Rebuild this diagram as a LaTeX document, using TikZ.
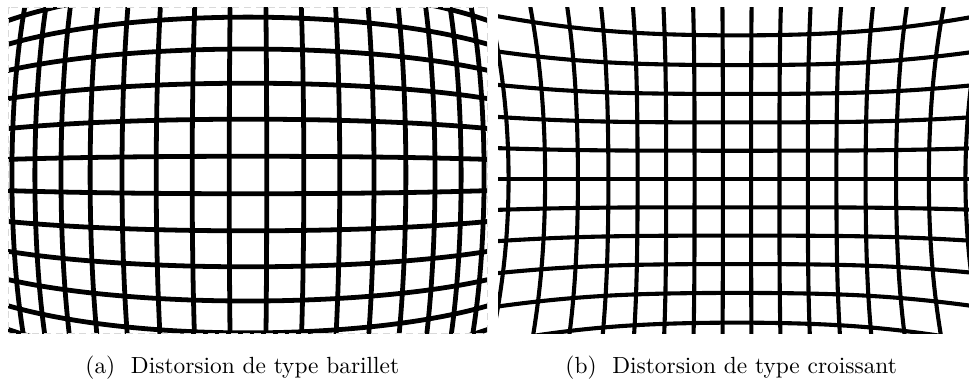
\documentclass[tikz,border=0pt]{standalone}
\begin{document}
\begin{tikzpicture}[x=0.428pt,y=-0.428pt,
  barrelline/.style={line width=2.05pt, black},
  pinline/.style={line width=1.75pt, black},
  framegray/.style={gray!30, line width=0.4pt, dash pattern=on 3pt off 2pt},
  captext/.style={anchor=base west, inner sep=0pt}]
\useasboundingbox (0,0) rectangle (969,381);
% (a) barrel distortion
\begin{scope}
  \clip (8,7) rectangle (487,333);
  \foreach \u in {-8.5,-7.5,...,8.5}{
    \draw[barrelline] plot[variable=\t,domain=-7.5:7.5,samples=61,smooth]
      ({248+37.5*(\u)/(1+(\u)*(\u)/294+(\t)*(\t)/500)},
       {175+37.5*(\t)/(1+((\u)*(\u)+(\t)*(\t))/294)});
  }
  \foreach \v in {-6.5,-5.5,...,5.5}{
    \draw[barrelline] plot[variable=\t,domain=-9.5:9.5,samples=61,smooth]
      ({248+37.5*(\t)/(1+(\t)*(\t)/294+(\v)*(\v)/500)},
       {175+37.5*(\v)/(1+((\t)*(\t)+(\v)*(\v))/294)});
  }
\end{scope}
\draw[framegray] (8,7) rectangle (487,333);
% (b) pincushion distortion
\begin{scope}
  \clip (498,7) rectangle (969,333);
  \foreach \u in {-8.5,-7.5,...,8.5}{
    \draw[pinline] plot[variable=\t,domain=-7.5:7.5,samples=61,smooth]
      ({737+28.3*(\u)*(1+(((\u)*(\u)+(\t)*(\t))/203.7)^2)},
       {179+28.3*(\t)*(1+(((\u)*(\u)+(\t)*(\t))/203.7)^2)});
  }
  \foreach \v in {-7,-6,...,7}{
    \draw[pinline] plot[variable=\t,domain=-9.5:9.5,samples=61,smooth]
      ({737+28.3*(\t)*(1+(((\t)*(\t)+(\v)*(\v))/203.7)^2)},
       {179+28.3*(\v)*(1+(((\t)*(\t)+(\v)*(\v))/203.7)^2)});
  }
\end{scope}
% captions
\node[captext] (capa) at (85,373) {(a)\hspace{6.7pt}Distorsion de type barillet};
\node[captext] (capb) at (565,373) {(b)\hspace{6.7pt}Distorsion de type croissant};
\end{tikzpicture}
\end{document}
